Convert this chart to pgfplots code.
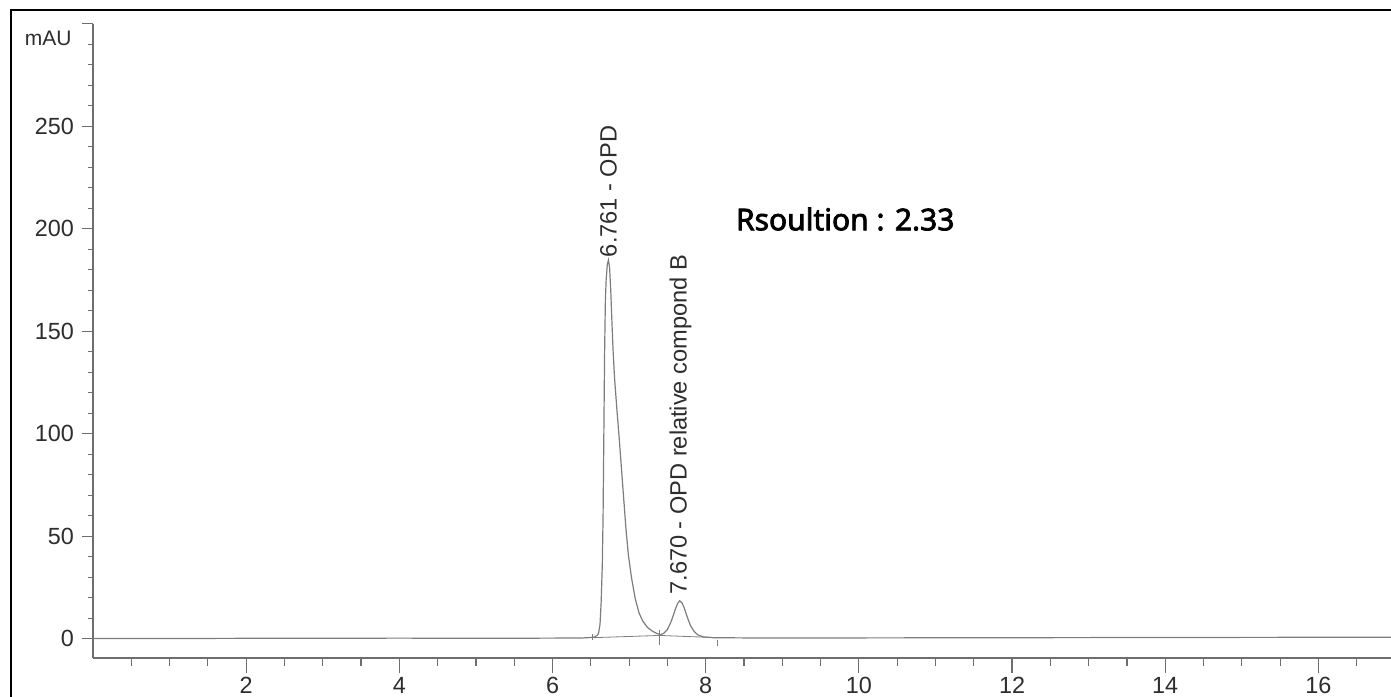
\documentclass[border=0pt]{standalone}
\usepackage{fontspec}
\setmainfont{Liberation Sans}
\newfontfamily\notos{Noto Sans}[AutoFakeBold=2.5]
\usepackage{pgfplots}
\pgfplotsset{compat=1.18}

\definecolor{trace}{RGB}{125,125,125}
\definecolor{axisgray}{RGB}{110,110,110}
\definecolor{labgray}{RGB}{45,45,45}

\begin{document}
\begin{tikzpicture}
\useasboundingbox (0,0) rectangle (695.5pt,348pt);
% outer frame (left and top edges visible)
\draw[line width=1pt, black] (5.5pt,-10pt) -- (5.5pt,343pt) -- (710pt,343pt);

\begin{axis}[
    at={(46.5pt,19pt)}, anchor=south west,
    scale only axis, width=651pt, height=317.15pt,
    xmin=0, xmax=17, ymin=-9.4, ymax=300,
    axis x line*=bottom, axis y line*=left,
    axis line style={axisgray, line width=0.7pt, -},
    clip=false,
    tick align=outside,
    major tick length=6pt, minor tick length=3pt,
    xtick={2,4,...,16},
    minor xtick={0.5,1,1.5,2.5,3,3.5,4.5,5,5.5,6.5,7,7.5,8.5,9,9.5,10.5,11,11.5,12.5,13,13.5,14.5,15,15.5,16.5,17},
    ytick={0,50,...,250},
    minor ytick={10,20,30,40,60,70,80,90,110,120,130,140,160,170,180,190,210,220,230,240,260,270,280,290},
    extra y ticks={300}, extra y tick labels={},
    extra y tick style={major tick length=6pt},
    xtick style={axisgray, line width=0.6pt, /pgfplots/major tick length=7.5pt, /pgfplots/minor tick length=4pt},
    ytick style={axisgray, line width=0.6pt, /pgfplots/major tick length=5.5pt, /pgfplots/minor tick length=2.5pt},
    tick label style={font=\fontsize{11.7}{13}\selectfont, text=labgray},
    /pgf/number format/assume math mode=true,
    ]

  % chromatogram trace
  \addplot[trace, line width=0.6pt] coordinates {
    (0,0.1) (1,0.1) (2,0.2) (3,0.2) (4,0.3) (5,0.2) (6,0.3)
    (6.40,0.4) (6.50,0.6) (6.55,0.9) (6.58,1.5) (6.60,2.5) (6.62,7)
    (6.635,18) (6.65,36) (6.66,60) (6.67,100) (6.68,140) (6.69,165)
    (6.70,175) (6.715,182.5) (6.73,184.7) (6.745,181) (6.76,170)
    (6.775,155) (6.79,141) (6.81,127) (6.84,112) (6.87,98)
    (6.90,83) (6.93,68) (6.96,53) (6.99,41) (7.03,30) (7.08,19.5)
    (7.13,12.5) (7.18,8.5) (7.24,5.5) (7.30,3.8) (7.36,2.6) (7.41,2.0)
    (7.45,2.6) (7.50,4.5) (7.55,8.5) (7.60,14) (7.63,17) (7.66,18.5)
    (7.69,17.5) (7.72,15) (7.76,10.5) (7.80,6.5) (7.85,3.5) (7.90,1.8)
    (7.97,0.9) (8.1,0.5) (8.5,0.4) (10,0.4) (12,0.5) (14,0.6) (16,0.7) (17,0.7)
  };

  % integration baseline and event marks
  \addplot[trace, line width=0.4pt] coordinates {(6.52,0.5) (7.40,1.6) (8.16,0.5)};
  \addplot[trace, line width=0.5pt] coordinates {(6.52,2.3) (6.52,-0.6)};
  \addplot[trace, line width=0.5pt] coordinates {(7.40,4.2) (7.40,-3)};
  \addplot[trace, line width=0.5pt] coordinates {(8.16,-0.6) (8.16,-3.6)};

  % peak labels
  \node[rotate=90, anchor=west, inner sep=0pt, text=labgray,
        font=\fontsize{11.8}{13}\selectfont] at (axis cs:6.73,186) {6.761 - OPD};
  \node[rotate=90, anchor=west, inner sep=0pt, text=labgray,
        font=\fontsize{11.8}{13}\selectfont] at (axis cs:7.67,21.3) {7.670 - OPD relative compond B};

  % y unit
  \node[anchor=east, inner sep=0pt, text=labgray,
        font=\fontsize{10.5}{12}\selectfont] at (axis cs:-0.274,292.8) {mAU};

  % resolution note
  \node[anchor=west, inner sep=0pt, text=black,
        font=\notos\bfseries\fontsize{15}{18}\selectfont] at (axis cs:8.39,204.7) {Rsoultion : 2.33};
\end{axis}
\end{tikzpicture}
\end{document}
